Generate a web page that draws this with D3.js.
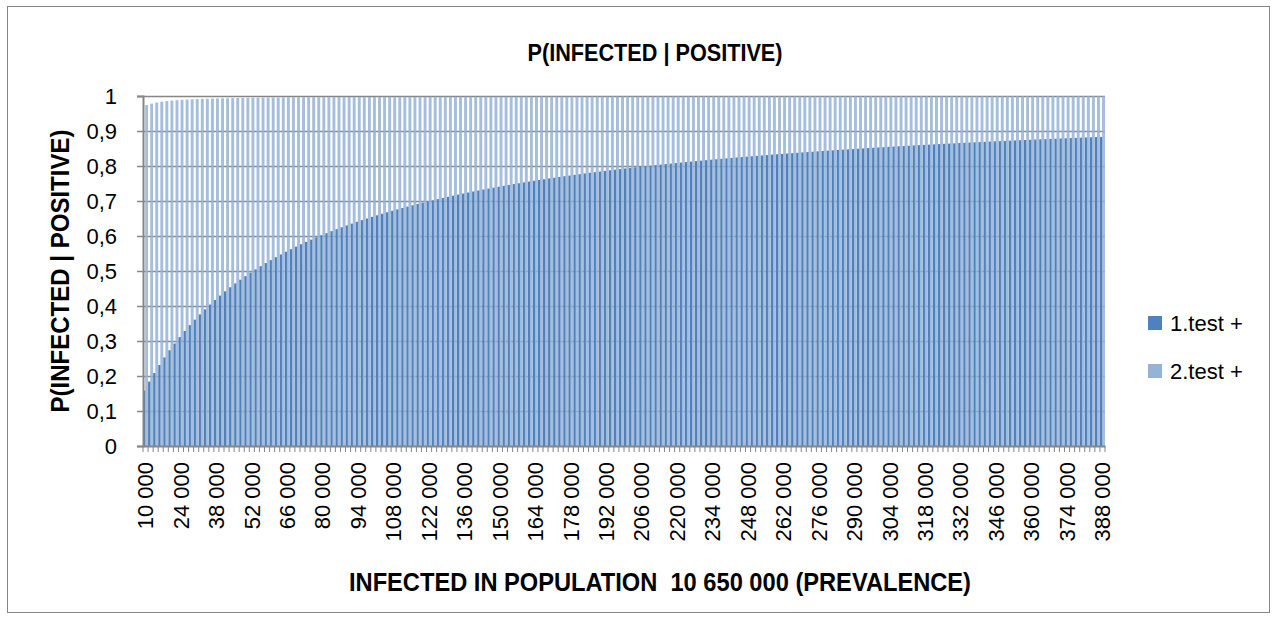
<!DOCTYPE html>
<html>
<head>
<meta charset="utf-8">
<script src="https://cdn.jsdelivr.net/npm/d3@7"></script>
<style>
  body { margin: 0; background: #fff; }
  svg text { font-family: "Liberation Sans", Arial, sans-serif; fill: #000; }
</style>
</head>
<body>
<div id="chart"></div>
<script>
// chart data
var categories = d3.range(10000, 390000, 2000); // 10 000 .. 388 000, step 2 000
var seriesNames = ["1.test +", "2.test +"];

var test1 = [0.1582,0.1841,0.2084,0.2313,0.2530,0.2734,0.2928,0.3112,0.3286,0.3452,
  0.3610,0.3761,0.3904,0.4042,0.4173,0.4299,0.4419,0.4535,0.4646,0.4752,
  0.4854,0.4953,0.5048,0.5139,0.5227,0.5312,0.5394,0.5473,0.5550,0.5624,
  0.5696,0.5765,0.5832,0.5897,0.5961,0.6022,0.6081,0.6139,0.6195,0.6250,
  0.6303,0.6354,0.6404,0.6453,0.6500,0.6547,0.6592,0.6636,0.6678,0.6720,
  0.6761,0.6801,0.6839,0.6877,0.6914,0.6950,0.6986,0.7020,0.7054,0.7087,
  0.7119,0.7151,0.7182,0.7212,0.7242,0.7271,0.7299,0.7327,0.7354,0.7381,
  0.7407,0.7433,0.7458,0.7483,0.7507,0.7531,0.7554,0.7577,0.7600,0.7622,
  0.7644,0.7665,0.7686,0.7707,0.7727,0.7747,0.7766,0.7786,0.7805,0.7823,
  0.7841,0.7860,0.7877,0.7895,0.7912,0.7929,0.7945,0.7962,0.7978,0.7994,
  0.8009,0.8025,0.8040,0.8055,0.8069,0.8084,0.8098,0.8112,0.8126,0.8140,
  0.8153,0.8166,0.8180,0.8192,0.8205,0.8218,0.8230,0.8242,0.8254,0.8266,
  0.8278,0.8290,0.8301,0.8312,0.8324,0.8335,0.8346,0.8356,0.8367,0.8377,
  0.8388,0.8398,0.8408,0.8418,0.8428,0.8437,0.8447,0.8457,0.8466,0.8475,
  0.8484,0.8494,0.8502,0.8511,0.8520,0.8529,0.8537,0.8546,0.8554,0.8563,
  0.8571,0.8579,0.8587,0.8595,0.8602,0.8610,0.8618,0.8625,0.8633,0.8640,
  0.8648,0.8655,0.8662,0.8669,0.8676,0.8683,0.8690,0.8697,0.8704,0.8711,
  0.8717,0.8724,0.8730,0.8737,0.8743,0.8750,0.8756,0.8762,0.8768,0.8774,
  0.8780,0.8786,0.8792,0.8798,0.8804,0.8809,0.8815,0.8821,0.8826,0.8832];

var test2 = [0.9741,0.9783,0.9814,0.9837,0.9855,0.9869,0.9881,0.9891,0.9899,0.9906,
  0.9912,0.9918,0.9923,0.9927,0.9931,0.9934,0.9937,0.9940,0.9943,0.9945,
  0.9947,0.9949,0.9951,0.9953,0.9955,0.9956,0.9957,0.9959,0.9960,0.9961,
  0.9962,0.9963,0.9964,0.9965,0.9966,0.9967,0.9968,0.9969,0.9969,0.9970,
  0.9971,0.9971,0.9972,0.9973,0.9973,0.9974,0.9974,0.9975,0.9975,0.9976,
  0.9976,0.9977,0.9977,0.9977,0.9978,0.9978,0.9978,0.9979,0.9979,0.9979,
  0.9980,0.9980,0.9980,0.9981,0.9981,0.9981,0.9982,0.9982,0.9982,0.9982,
  0.9983,0.9983,0.9983,0.9983,0.9983,0.9984,0.9984,0.9984,0.9984,0.9984,
  0.9985,0.9985,0.9985,0.9985,0.9985,0.9986,0.9986,0.9986,0.9986,0.9986,
  0.9986,0.9986,0.9987,0.9987,0.9987,0.9987,0.9987,0.9987,0.9987,0.9987,
  0.9988,0.9988,0.9988,0.9988,0.9988,0.9988,0.9988,0.9988,0.9988,0.9989,
  0.9989,0.9989,0.9989,0.9989,0.9989,0.9989,0.9989,0.9989,0.9989,0.9990,
  0.9990,0.9990,0.9990,0.9990,0.9990,0.9990,0.9990,0.9990,0.9990,0.9990,
  0.9990,0.9990,0.9991,0.9991,0.9991,0.9991,0.9991,0.9991,0.9991,0.9991,
  0.9991,0.9991,0.9991,0.9991,0.9991,0.9991,0.9991,0.9992,0.9992,0.9992,
  0.9992,0.9992,0.9992,0.9992,0.9992,0.9992,0.9992,0.9992,0.9992,0.9992,
  0.9992,0.9992,0.9992,0.9992,0.9992,0.9992,0.9992,0.9993,0.9993,0.9993,
  0.9993,0.9993,0.9993,0.9993,0.9993,0.9993,0.9993,0.9993,0.9993,0.9993,
  0.9993,0.9993,0.9993,0.9993,0.9993,0.9993,0.9993,0.9993,0.9993,0.9993];

var xTickValues = [10000,24000,38000,52000,66000,80000,94000,108000,122000,136000,
  150000,164000,178000,192000,206000,220000,234000,248000,262000,276000,
  290000,304000,318000,332000,346000,360000,374000,388000];
var xTickLabels = ["10 000","24 000","38 000","52 000","66 000","80 000","94 000","108 000",
  "122 000","136 000","150 000","164 000","178 000","192 000","206 000","220 000",
  "234 000","248 000","262 000","276 000","290 000","304 000","318 000","332 000",
  "346 000","360 000","374 000","388 000"];
var yTickValues = [0,0.1,0.2,0.3,0.4,0.5,0.6,0.7,0.8,0.9,1];
var yTickLabels = ["0","0,1","0,2","0,3","0,4","0,5","0,6","0,7","0,8","0,9","1"];

var colors = ["#4F81BD", "#95B3D7"];

// Step 1: chart size
var svgWidth = 1276;
var svgHeight = 620;
var plot = { left: 143, right: 1105, top: 96, bottom: 446 };
var axisGray = "#868686";

var svg = d3.select("#chart")
    .append("svg")
    .attr("width", svgWidth)
    .attr("height", svgHeight);

// outer chart border
svg.append("rect")
    .attr("x", 7.5).attr("y", 6.5)
    .attr("width", 1262).attr("height", 606)
    .attr("fill", "#fff")
    .attr("stroke", axisGray)
    .attr("stroke-width", 1);

// Step 2: scales
var xScale = d3.scaleBand()
    .domain(categories)
    .range([plot.left, plot.right])
    .padding(0);

var subScale = d3.scaleBand()
    .domain(seriesNames)
    .range([0, xScale.bandwidth()])
    .padding(0);

var yScale = d3.scaleLinear()
    .domain([0, 1])
    .range([plot.bottom, plot.top]);

// Step 3: gridlines (behind bars)
svg.append("g")
    .attr("transform", `translate(${plot.left}, 0)`)
    .call(d3.axisLeft(yScale).tickValues(yTickValues.slice(1)).tickSize(-(plot.right - plot.left)).tickFormat(""))
    .call(g => g.select(".domain").remove())
    .selectAll("line")
    .attr("stroke", axisGray)
    .attr("stroke-width", 1.5);

// Step 4: bars
var rows = categories.map((c, i) => ({ cat: c, v1: test1[i], v2: test2[i] }));

svg.append("g").selectAll("rect")
    .data(rows)
    .enter()
    .append("rect")
    .attr("x", d => xScale(d.cat) + subScale(seriesNames[0]))
    .attr("y", d => yScale(d.v1))
    .attr("width", subScale.bandwidth())
    .attr("height", d => yScale(0) - yScale(d.v1))
    .attr("fill", colors[0]);

svg.append("g").selectAll("rect")
    .data(rows)
    .enter()
    .append("rect")
    .attr("x", d => xScale(d.cat) + subScale(seriesNames[1]) - 0.4)
    .attr("y", d => yScale(d.v2))
    .attr("width", subScale.bandwidth() + 0.4)
    .attr("height", d => yScale(0) - yScale(d.v2))
    .attr("fill", colors[1])
    .attr("fill-opacity", 0.85);

// Step 5: axes
var leftAxis = d3.axisLeft(yScale)
    .tickValues(yTickValues)
    .tickSize(6)
    .tickPadding(20)
    .tickFormat((d, i) => yTickLabels[i]);

svg.append("g")
    .attr("transform", `translate(${plot.left}, 0)`)
    .call(leftAxis)
    .call(g => g.select(".domain").attr("stroke", axisGray).attr("stroke-width", 2))
    .call(g => g.selectAll("line").attr("stroke", axisGray).attr("stroke-width", 1.5))
    .call(g => g.selectAll("text").style("font-size", "22px").attr("fill", "#000"));

// category tick marks at band edges
var edges = categories.map(c => xScale(c)).concat([plot.right]);
svg.append("g").selectAll("line")
    .data(edges)
    .enter()
    .append("line")
    .attr("x1", d => d).attr("x2", d => d)
    .attr("y1", plot.bottom).attr("y2", plot.bottom + 6)
    .attr("stroke", axisGray)
    .attr("stroke-width", 1);

var bottomAxis = d3.axisBottom(xScale)
    .tickValues(xTickValues)
    .tickSize(0)
    .tickFormat((d, i) => xTickLabels[i]);

svg.append("g")
    .attr("transform", `translate(0, ${plot.bottom})`)
    .call(bottomAxis)
    .call(g => g.select(".domain").attr("stroke", axisGray).attr("stroke-width", 2))
    .call(g => g.selectAll("text")
        .style("font-size", "22px")
        .attr("fill", "#000")
        .attr("transform", "rotate(-90)")
        .attr("x", -16)
        .attr("y", 0)
        .attr("dy", "0.35em")
        .style("text-anchor", "end"));

// Step 6: titles
svg.append("text")
    .attr("x", 655)
    .attr("y", 61)
    .attr("text-anchor", "middle")
    .attr("textLength", 255)
    .attr("lengthAdjust", "spacingAndGlyphs")
    .style("font-size", "23px")
    .style("font-weight", "bold")
    .text("P(INFECTED | POSITIVE)");

svg.append("text")
    .attr("transform", "translate(69, 271) rotate(-90)")
    .attr("text-anchor", "middle")
    .attr("textLength", 283)
    .attr("lengthAdjust", "spacingAndGlyphs")
    .style("font-size", "25px")
    .style("font-weight", "bold")
    .text("P(INFECTED | POSITIVE)");

svg.append("text")
    .attr("x", 660)
    .attr("y", 591)
    .attr("text-anchor", "middle")
    .attr("textLength", 622)
    .attr("lengthAdjust", "spacingAndGlyphs")
    .style("font-size", "25px")
    .style("font-weight", "bold")
    .style("white-space", "pre")
    .text("INFECTED IN POPULATION  10 650 000 (PREVALENCE)");

// Step 7: legend
var legend = svg.append("g")
    .selectAll("g")
    .data(seriesNames)
    .enter()
    .append("g")
    .attr("transform", (d, i) => `translate(1148, ${316 + i * 48})`);

legend.append("rect")
    .attr("width", 14).attr("height", 14)
    .attr("fill", (d, i) => colors[i]);

legend.append("text")
    .attr("x", 22)
    .attr("y", 15)
    .style("font-size", "22px")
    .text(d => d);
</script>
</body>
</html>
